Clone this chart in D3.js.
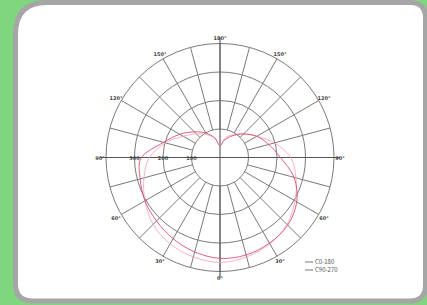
<!DOCTYPE html>
<html>
<head>
<meta charset="utf-8">
<script src="https://cdn.jsdelivr.net/npm/d3@7"></script>
<style>
  body { margin: 0; background: #7fd67f; overflow: hidden; }
  svg { display: block; }
  .grid { fill: none; stroke: #7a7a7a; stroke-width: 1; }
  .axis { stroke: #555; stroke-width: 1.1; }
  .lbl { font-family: "DejaVu Sans", sans-serif; font-size: 5px; fill: #444; font-weight: bold; }
  .leg { font-family: "Noto Sans CJK SC", sans-serif; font-size: 6px; fill: #555; }
</style>
</head>
<body>
<svg id="chart" width="427" height="305"></svg>
<script>
// gamma angles, 0 = straight down, going round through the right side
const angles = [0, 15, 30, 45, 60, 75, 90, 105, 120, 135, 150, 165,
                180, 195, 210, 225, 240, 255, 270, 285, 300, 315, 330, 345];
const ringValues = [100, 200, 300, 400];
const ringLabels = ["100", "200", "300"];
const angleTicks = [0, 30, 60, 90, 120, 150, 180, 210, 240, 270, 300, 330];
const seriesNames = ["C0-180", "C90-270"];
const seriesColors = ["#d9506e", "#eeaabb"];
// intensity (cd) per angle
const c0 = [354, 354, 347, 336, 311, 269, 212, 177, 149, 117, 88, 64,
            42, 71, 99, 127, 163, 205, 276, 290, 304, 315, 329, 343];
const c90 = [368, 361, 350, 332, 304, 276, 248, 198, 149, 117, 92, 71,
             42, 71, 92, 117, 149, 198, 248, 276, 304, 332, 350, 361];

const svg = d3.select("#chart");
const cx = 220, cy = 157.5;

// card behind the chart
svg.append("path")
  .attr("d", "M47,2.5 H410 Q425.5,2.5 425.5,18 V285 Q425.5,301 410,301 H33 Q15.5,301 15.5,284 V34 Q15.5,2.5 47,2.5 Z")
  .attr("fill", "#fff")
  .attr("stroke", "#a6a6a6")
  .attr("stroke-width", 5);

const r = d3.scaleLinear().domain([0, 400]).range([0, 114]);
const g = svg.append("g").attr("transform", `translate(${cx},${cy})`);

// rings
g.selectAll(".ring")
  .data(ringValues)
  .enter()
  .append("circle")
  .attr("class", "grid")
  .attr("r", (d) => r(d));

// spokes from the inner ring out
const toRad = (a) => (Math.PI - (a * Math.PI) / 180);
g.selectAll(".spoke")
  .data(angles)
  .enter()
  .append("line")
  .attr("class", "grid")
  .attr("x1", (d) => r(100) * Math.sin(toRad(d)))
  .attr("y1", (d) => -r(100) * Math.cos(toRad(d)))
  .attr("x2", (d) => r(400) * Math.sin(toRad(d)))
  .attr("y2", (d) => -r(400) * Math.cos(toRad(d)));

// main axes
const ext = r(400) + 6;
g.append("line").attr("class", "axis").attr("x1", -ext).attr("x2", ext).attr("y1", 0).attr("y2", 0);
g.append("line").attr("class", "axis").attr("y1", -ext).attr("y2", ext).attr("x1", 0).attr("x2", 0);

// curves
const line = d3.lineRadial()
  .angle((d) => toRad(d[0]))
  .radius((d) => r(d[1]))
  .curve(d3.curveCardinalClosed);

[c90, c0].forEach((vals, i) => {
  g.append("path")
    .attr("d", line(angles.map((a, j) => [a, vals[j]])))
    .attr("fill", "none")
    .attr("stroke", seriesColors[1 - i])
    .attr("stroke-width", 0.9);
});

// angle labels
g.selectAll(".alab")
  .data(angleTicks)
  .enter()
  .append("text")
  .attr("class", "lbl")
  .attr("x", (d) => (r(400) + 6) * Math.sin(toRad(d)))
  .attr("y", (d) => -(r(400) + 6) * Math.cos(toRad(d)) + 2)
  .attr("text-anchor", "middle")
  .text((d) => (d <= 180 ? d : 360 - d) + "°");

// ring value labels along left axis
g.selectAll(".rlab")
  .data(ringLabels)
  .enter()
  .append("text")
  .attr("class", "lbl")
  .attr("x", (d) => -r(+d))
  .attr("y", 2)
  .attr("text-anchor", "middle")
  .text((d) => d);

// legend
const leg = svg.append("g").attr("transform", "translate(305,262)");
seriesNames.forEach((name, i) => {
  leg.append("line")
    .attr("x1", 0).attr("x2", 8)
    .attr("y1", i * 8).attr("y2", i * 8)
    .attr("stroke", "#777").attr("stroke-width", 1);
  leg.append("text")
    .attr("class", "leg")
    .attr("x", 10).attr("y", i * 8 + 2)
    .text(name);
});
</script>
</body>
</html>
